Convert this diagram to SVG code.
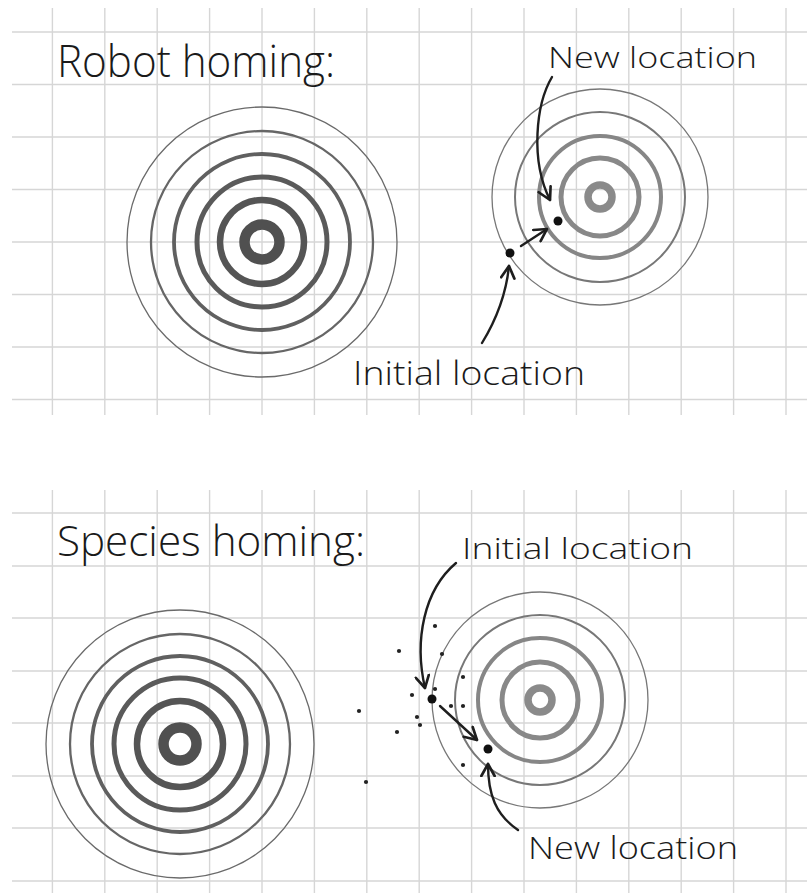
<svg xmlns="http://www.w3.org/2000/svg" width="807" height="893" viewBox="0 0 807 893">
<style>
.grid line{stroke:#d6d6d6;stroke-width:1.4}
.ring{fill:none}
.lbl{font-family:"Open Sans","Noto Sans","Liberation Sans",sans-serif;font-weight:300;fill:#1a1a1a}
.arr{fill:none;stroke:#1e1e1e;stroke-width:2.4;stroke-linecap:round}
.dot{fill:#111}
.sd{fill:#222}
</style>
<defs>
<marker id="ah" viewBox="0 0 12 12" refX="10" refY="6" markerWidth="16" markerHeight="16" markerUnits="userSpaceOnUse" orient="auto">
<path d="M1,1 L10,6 L1,11" fill="none" stroke="#1e1e1e" stroke-width="2" stroke-linecap="round" stroke-linejoin="round"/>
</marker>
</defs>
<rect width="807" height="893" fill="#fff"/>
<g class="grid" id="grid-top">
<line x1="12" y1="32" x2="807" y2="32"/><line x1="12" y1="84.5" x2="807" y2="84.5"/><line x1="12" y1="137" x2="807" y2="137"/><line x1="12" y1="189.5" x2="807" y2="189.5"/><line x1="12" y1="242" x2="807" y2="242"/><line x1="12" y1="294.5" x2="807" y2="294.5"/><line x1="12" y1="347" x2="807" y2="347"/><line x1="12" y1="399.5" x2="807" y2="399.5"/>
<line x1="52.4" y1="8" x2="52.4" y2="415"/><line x1="104.8" y1="8" x2="104.8" y2="415"/><line x1="157.2" y1="8" x2="157.2" y2="415"/><line x1="209.6" y1="8" x2="209.6" y2="415"/><line x1="262" y1="8" x2="262" y2="415"/><line x1="314.4" y1="8" x2="314.4" y2="415"/><line x1="366.8" y1="8" x2="366.8" y2="415"/><line x1="419.2" y1="8" x2="419.2" y2="415"/><line x1="471.6" y1="8" x2="471.6" y2="415"/><line x1="524" y1="8" x2="524" y2="415"/><line x1="576.4" y1="8" x2="576.4" y2="415"/><line x1="628.8" y1="8" x2="628.8" y2="415"/><line x1="681.2" y1="8" x2="681.2" y2="415"/><line x1="733.6" y1="8" x2="733.6" y2="415"/><line x1="786" y1="8" x2="786" y2="415"/>
</g>
<g class="grid" id="grid-bottom">
<line x1="12" y1="513" x2="807" y2="513"/><line x1="12" y1="566" x2="807" y2="566"/><line x1="12" y1="618" x2="807" y2="618"/><line x1="12" y1="671" x2="807" y2="671"/><line x1="12" y1="723" x2="807" y2="723"/><line x1="12" y1="776" x2="807" y2="776"/><line x1="12" y1="828" x2="807" y2="828"/><line x1="12" y1="881" x2="807" y2="881"/>
<line x1="52.4" y1="490" x2="52.4" y2="893"/><line x1="104.8" y1="490" x2="104.8" y2="893"/><line x1="157.2" y1="490" x2="157.2" y2="893"/><line x1="209.6" y1="490" x2="209.6" y2="893"/><line x1="262" y1="490" x2="262" y2="893"/><line x1="314.4" y1="490" x2="314.4" y2="893"/><line x1="366.8" y1="490" x2="366.8" y2="893"/><line x1="419.2" y1="490" x2="419.2" y2="893"/><line x1="471.6" y1="490" x2="471.6" y2="893"/><line x1="524" y1="490" x2="524" y2="893"/><line x1="576.4" y1="490" x2="576.4" y2="893"/><line x1="628.8" y1="490" x2="628.8" y2="893"/><line x1="681.2" y1="490" x2="681.2" y2="893"/><line x1="733.6" y1="490" x2="733.6" y2="893"/><line x1="786" y1="490" x2="786" y2="893"/>
</g>

<g id="title-robot"><text class="lbl" x="57" y="77" font-size="44" textLength="278" lengthAdjust="spacingAndGlyphs">Robot homing:</text></g>
<g id="title-species"><text class="lbl" x="57" y="556" font-size="42" textLength="308" lengthAdjust="spacingAndGlyphs">Species homing:</text></g>

<g id="target-robot-home" class="ring">
<circle cx="262" cy="242" r="135" stroke="#6a6a6a" stroke-width="1.3"/>
<circle cx="262" cy="242" r="111" stroke="#666" stroke-width="2.3"/>
<circle cx="262" cy="242" r="88" stroke="#606060" stroke-width="3.8"/>
<circle cx="262" cy="242" r="65" stroke="#5a5a5a" stroke-width="5"/>
<circle cx="262" cy="242" r="42" stroke="#555" stroke-width="6.5"/>
<circle cx="262" cy="242" r="17.5" stroke="#505050" stroke-width="10.5"/>
</g>
<g id="target-robot-new" class="ring">
<circle cx="600" cy="197" r="108" stroke="#777" stroke-width="1.3"/>
<circle cx="600" cy="197" r="85" stroke="#777" stroke-width="2"/>
<circle cx="600" cy="197" r="61" stroke="#868686" stroke-width="4"/>
<circle cx="600" cy="197" r="39" stroke="#888" stroke-width="5"/>
<circle cx="600" cy="197" r="12" stroke="#8a8a8a" stroke-width="7.5"/>
</g>
<g id="target-species-home" class="ring">
<circle cx="180" cy="744" r="134" stroke="#6a6a6a" stroke-width="1.3"/>
<circle cx="180" cy="744" r="110" stroke="#666" stroke-width="2.3"/>
<circle cx="180" cy="744" r="88" stroke="#606060" stroke-width="3.8"/>
<circle cx="180" cy="744" r="66" stroke="#5a5a5a" stroke-width="5"/>
<circle cx="180" cy="744" r="43" stroke="#555" stroke-width="6.5"/>
<circle cx="180" cy="744" r="16.5" stroke="#505050" stroke-width="10.5"/>
</g>
<g id="target-species-new" class="ring">
<circle cx="540" cy="700" r="108" stroke="#777" stroke-width="1.3"/>
<circle cx="540" cy="700" r="85" stroke="#777" stroke-width="2"/>
<circle cx="540" cy="700" r="62" stroke="#868686" stroke-width="4"/>
<circle cx="540" cy="700" r="38" stroke="#888" stroke-width="5"/>
<circle cx="540" cy="700" r="12" stroke="#8a8a8a" stroke-width="7.5"/>
</g>

<g id="robot-initial"><circle class="dot" cx="510" cy="253" r="4.5"/></g>
<g id="robot-new"><circle class="dot" cx="558" cy="221" r="4.5"/></g>
<g id="species-initial"><circle class="dot" cx="432" cy="699" r="4.5"/></g>
<g id="species-new"><circle class="dot" cx="488" cy="749" r="4.5"/></g>
<g id="species-scatter">
<circle class="sd" cx="435" cy="626" r="2.1"/><circle class="sd" cx="399" cy="651" r="2.1"/><circle class="sd" cx="442" cy="654" r="2.1"/><circle class="sd" cx="463" cy="677" r="2.1"/><circle class="sd" cx="435" cy="689" r="2.1"/><circle class="sd" cx="412" cy="695" r="2.1"/><circle class="sd" cx="359" cy="711" r="2.1"/><circle class="sd" cx="451" cy="706" r="2.1"/><circle class="sd" cx="463" cy="706" r="2.1"/><circle class="sd" cx="417" cy="717" r="2.1"/><circle class="sd" cx="420" cy="725" r="2.1"/><circle class="sd" cx="397" cy="732" r="2.1"/><circle class="sd" cx="463" cy="765" r="2.1"/><circle class="sd" cx="366" cy="782" r="2.1"/>
</g>

<g id="label-robot-new"><text class="lbl" x="548" y="68" font-size="30" textLength="209" lengthAdjust="spacingAndGlyphs">New location</text></g>
<g id="label-robot-initial"><text class="lbl" x="353" y="385" font-size="33" textLength="232" lengthAdjust="spacingAndGlyphs">Initial location</text></g>
<g id="label-species-initial"><text class="lbl" x="462" y="559" font-size="30" textLength="231" lengthAdjust="spacingAndGlyphs">Initial location</text></g>
<g id="label-species-new"><text class="lbl" x="528" y="859" font-size="31" textLength="210" lengthAdjust="spacingAndGlyphs">New location</text></g>

<g id="connectors">
<path class="arr" d="M552,77 C536,104 530,160 550,200" marker-end="url(#ah)"/>
<path class="arr" d="M482,343 C496,320 506,295 509,266" marker-end="url(#ah)"/>
<path class="arr" d="M521,246 L547,229" marker-end="url(#ah)"/>
<path class="arr" d="M456,563 C424,590 414,640 425,688" marker-end="url(#ah)"/>
<path class="arr" d="M440,706 L477,740" marker-end="url(#ah)"/>
<path class="arr" d="M518,830 C496,815 488,795 488,764" marker-end="url(#ah)"/>
</g>
</svg>
